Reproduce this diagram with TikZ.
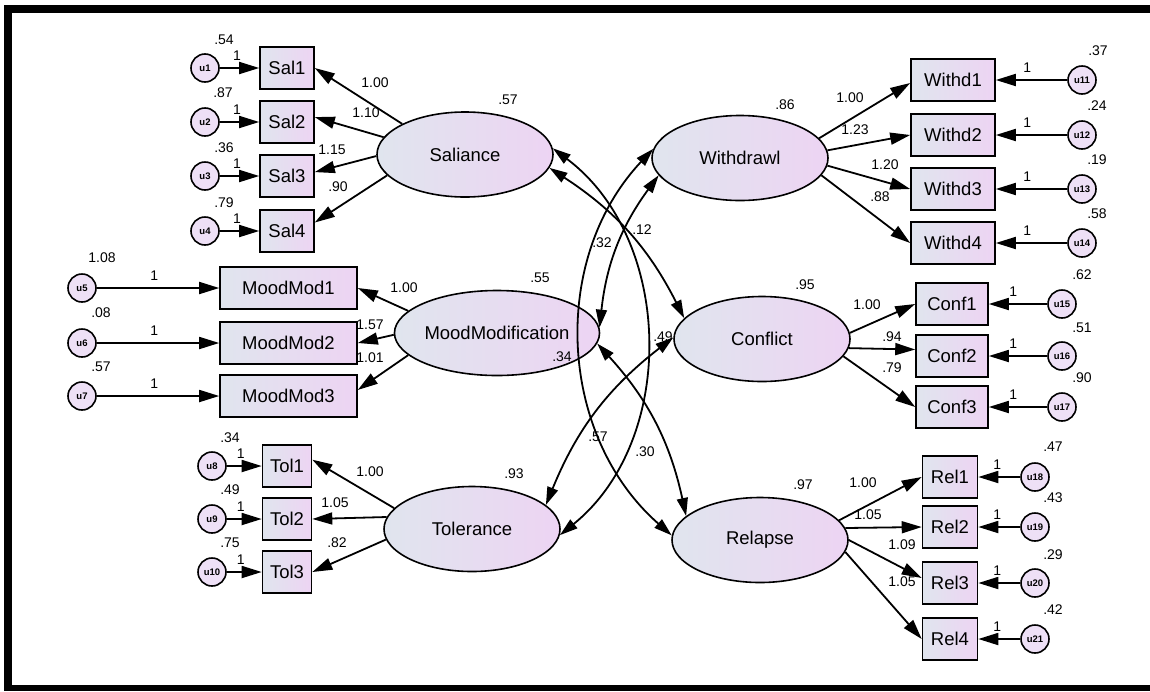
\documentclass[tikz,border=0pt]{standalone}
\usepackage{fontspec}
\setmainfont{Liberation Sans}
\usetikzlibrary{arrows.meta,shapes.geometric,calc}
\definecolor{gl}{RGB}{224,229,238}
\definecolor{gr}{RGB}{237,212,243}
\definecolor{uc}{RGB}{238,224,246}
\tikzset{
 obs/.style={draw, line width=1.6pt, left color=gl, right color=gr, minimum height=42pt, inner sep=0pt, font=\fontsize{18.5}{20}\selectfont},
 lat/.style={draw, ellipse, line width=1.6pt, left color=gl, right color=gr, minimum width=176pt, minimum height=85pt, inner sep=0pt, font=\fontsize{18.5}{20}\selectfont},
 err/.style={draw, circle, line width=1.6pt, fill=uc, minimum size=28pt, inner sep=0pt, font=\bfseries\fontsize{9.5}{10}\selectfont},
 ld/.style={line width=1.8pt, -{Triangle[length=20pt,width=12pt]}},
 cov/.style={line width=1.8pt, {Triangle[length=18pt,width=11pt]}-{Triangle[length=18pt,width=11pt]}},
 lbl/.style={font=\fontsize{14}{15}\selectfont, inner sep=0pt},
 one/.style={lbl, above=7pt},
}
\begin{document}
\begin{tikzpicture}[x=1pt,y=1pt]
\useasboundingbox (0,0) rectangle (1150,-691);
\fill[white] (0,0) rectangle (1150,-691);
% frame
\fill[black] (4,-5) rectangle (1150,-13);
\fill[black] (4,-5) rectangle (12,-691);
\fill[black] (4,-685) rectangle (1150,-691);

% latent variables
\node[lat] (S) at (465,-154.5) {Saliance};
\node[lat] (M) at (497,-333) {MoodModification};
\node[lat] (T) at (472,-529) {Tolerance};
\node[lat] (W) at (740,-158) {Withdrawl};
\node[lat] (C) at (762,-339) {Conflict};
\node[lat] (R) at (760,-540) {Relapse};

% observed
\node[obs, minimum width=54pt] (Sal1) at (287,-68) {Sal1};
\node[obs, minimum width=54pt] (Sal2) at (287,-122) {Sal2};
\node[obs, minimum width=54pt] (Sal3) at (287,-176) {Sal3};
\node[obs, minimum width=54pt] (Sal4) at (287,-231) {Sal4};
\node[obs, minimum width=137pt] (MM1) at (288.5,-288) {MoodMod1};
\node[obs, minimum width=137pt] (MM2) at (288.5,-343) {MoodMod2};
\node[obs, minimum width=137pt] (MM3) at (288.5,-396) {MoodMod3};
\node[obs, minimum width=49pt] (Tol1) at (287,-466) {Tol1};
\node[obs, minimum width=49pt] (Tol2) at (287,-519) {Tol2};
\node[obs, minimum width=49pt] (Tol3) at (287,-572) {Tol3};
\node[obs, minimum width=84pt] (Wd1) at (953,-80) {Withd1};
\node[obs, minimum width=84pt] (Wd2) at (953,-135) {Withd2};
\node[obs, minimum width=84pt] (Wd3) at (953,-189) {Withd3};
\node[obs, minimum width=84pt] (Wd4) at (953,-243) {Withd4};
\node[obs, minimum width=72pt] (Cf1) at (952,-304) {Conf1};
\node[obs, minimum width=72pt] (Cf2) at (952,-356) {Conf2};
\node[obs, minimum width=72pt] (Cf3) at (952,-407) {Conf3};
\node[obs, minimum width=55pt] (Rl1) at (950,-477) {Rel1};
\node[obs, minimum width=55pt] (Rl2) at (950,-527) {Rel2};
\node[obs, minimum width=55pt] (Rl3) at (950,-583) {Rel3};
\node[obs, minimum width=55pt] (Rl4) at (950,-639) {Rel4};

% errors
\node[err] (u1) at (205,-68) {u1};
\node[err] (u2) at (205,-122) {u2};
\node[err] (u3) at (205,-176) {u3};
\node[err] (u4) at (205,-231) {u4};
\node[err] (u5) at (82,-288) {u5};
\node[err] (u6) at (82,-343) {u6};
\node[err] (u7) at (82,-396) {u7};
\node[err] (u8) at (212,-466) {u8};
\node[err] (u9) at (212,-519) {u9};
\node[err] (u10) at (212,-572) {u10};
\node[err] (u11) at (1082,-80) {u11};
\node[err] (u12) at (1082,-135) {u12};
\node[err] (u13) at (1082,-189) {u13};
\node[err] (u14) at (1082,-243) {u14};
\node[err] (u15) at (1062,-304) {u15};
\node[err] (u16) at (1062,-356) {u16};
\node[err] (u17) at (1062,-407) {u17};
\node[err] (u18) at (1035,-477) {u18};
\node[err] (u19) at (1035,-527) {u19};
\node[err] (u20) at (1035,-583) {u20};
\node[err] (u21) at (1035,-639) {u21};

% error arrows
\foreach \u/\b in {u1/Sal1,u2/Sal2,u3/Sal3,u4/Sal4}
  \draw[ld] (\u.east) -- node[one, pos=0.44] {1} (\b.west);
\foreach \u/\b in {u5/MM1,u6/MM2,u7/MM3}
  \draw[ld] (\u.east) -- node[one, pos=0.47] {1} (\b.west);
\foreach \u/\b in {u8/Tol1,u9/Tol2,u10/Tol3}
  \draw[ld] (\u.east) -- node[one, pos=0.4] {1} (\b.west);
\foreach \u/\b in {u11/Wd1,u12/Wd2,u13/Wd3,u14/Wd4}
  \draw[ld] (\u.west) -- node[one, pos=0.56] {1} (\b.east);
\foreach \u/\b in {u15/Cf1,u16/Cf2,u17/Cf3}
  \draw[ld] (\u.west) -- node[one, pos=0.58] {1} (\b.east);
\foreach \u/\b in {u18/Rl1,u19/Rl2,u20/Rl3,u21/Rl4}
  \draw[ld] (\u.west) -- node[one, pos=0.55] {1} (\b.east);

% loadings
\draw[ld] (S.154) -- (Sal1.0);
\draw[ld] (S.168) -- (Sal2.10);
\draw[ld] (S.181) -- (Sal3.8);
\draw[ld] (S.195) -- (Sal4.17);
\draw[ld] (M.166) -- (MM1.east);
\draw[ld] (M.181) -- (MM2.east);
\draw[ld] (M.194) -- (MM3.5);
\draw[ld] (T.165) -- (Tol1.14);
\draw[ld] (T.172) -- (Tol2.east);
\draw[ld] (T.187) -- (Tol3.east);
\draw[ld] (W.14) -- (Wd1.184);
\draw[ld] (W.5) -- (Wd2.west);
\draw[ld] (W.-5) -- (Wd3.west);
\draw[ld] (W.-12) -- (Wd4.west);
\draw[ld] (C.4) -- (Cf1.west);
\draw[ld] (C.-6) -- (Cf2.170);
\draw[ld] (C.-12) -- (Cf3.west);
\draw[ld] (R.14) -- (Rl1.west);
\draw[ld] (R.8) -- (Rl2.west);
\draw[ld] (R.0) -- (Rl3.170);
\draw[ld] (R.-8) -- (Rl4.west);

% covariances
\draw[cov] (S.4) to[bend left=52] (T.-4);
\draw[cov] (W.174) to[bend right=46] (R.177);
\draw[cov] (S.-9) to[bend left=15] (C.165);
\draw[cov] (W.192) to[bend right=15] (M.3);
\draw[cov] (T.18) to[bend left=15] (C.179);
\draw[cov] (M.-6) to[bend left=15] (R.162);

% variance labels of errors
\node[lbl] (v1) at (224,-40) {.54};
\node[lbl] (v2) at (223,-93) {.87};
\node[lbl] (v3) at (224,-148) {.36};
\node[lbl] (v4) at (224,-203) {.79};
\node[lbl] (v5) at (102,-258) {1.08};
\node[lbl] (v6) at (101,-313) {.08};
\node[lbl] (v7) at (101,-367) {.57};
\node[lbl] (v8) at (230,-438) {.34};
\node[lbl] (v9) at (230,-490) {.49};
\node[lbl] (v10) at (230,-543) {.75};
\node[lbl] (v11) at (1098,-51) {.37};
\node[lbl] (v12) at (1097,-106) {.24};
\node[lbl] (v13) at (1097,-160) {.19};
\node[lbl] (v14) at (1097,-214) {.58};
\node[lbl] (v15) at (1082,-275) {.62};
\node[lbl] (v16) at (1082,-328) {.51};
\node[lbl] (v17) at (1082,-378) {.90};
\node[lbl] (v18) at (1053,-447) {.47};
\node[lbl] (v19) at (1053,-498) {.43};
\node[lbl] (v20) at (1053,-555) {.29};
\node[lbl] (v21) at (1053,-610) {.42};

% variance labels of factors
\node[lbl] (vS) at (508,-100) {.57};
\node[lbl] (vM) at (540,-278) {.55};
\node[lbl] (vT) at (514,-474) {.93};
\node[lbl] (vW) at (785,-105) {.86};
\node[lbl] (vC) at (805,-285) {.95};
\node[lbl] (vR) at (803,-485) {.97};

% loading labels
\node[lbl] at (375,-83) {1.00};
\node[lbl] at (366,-113) {1.10};
\node[lbl] at (332,-150) {1.15};
\node[lbl] at (338,-187) {.90};
\node[lbl] at (404,-288) {1.00};
\node[lbl] at (370,-325) {1.57};
\node[lbl] at (370,-358) {1.01};
\node[lbl] at (370,-472) {1.00};
\node[lbl] at (335,-503) {1.05};
\node[lbl] at (337,-543) {.82};
\node[lbl] at (850,-98) {1.00};
\node[lbl] at (855,-130) {1.23};
\node[lbl] at (885,-165) {1.20};
\node[lbl] at (880,-197) {.88};
\node[lbl] at (867,-305) {1.00};
\node[lbl] at (892,-337) {.94};
\node[lbl] at (892,-368) {.79};
\node[lbl] at (863,-483) {1.00};
\node[lbl] at (868,-515) {1.05};
\node[lbl] at (902,-545) {1.09};
\node[lbl] at (902,-582) {1.05};

% covariance labels
\node[lbl] at (642,-230) {.12};
\node[lbl] at (602,-243) {.32};
\node[lbl] at (663,-337) {.49};
\node[lbl] at (562,-357) {.34};
\node[lbl] at (598,-437) {.57};
\node[lbl] at (645,-452) {.30};
\end{tikzpicture}
\end{document}
